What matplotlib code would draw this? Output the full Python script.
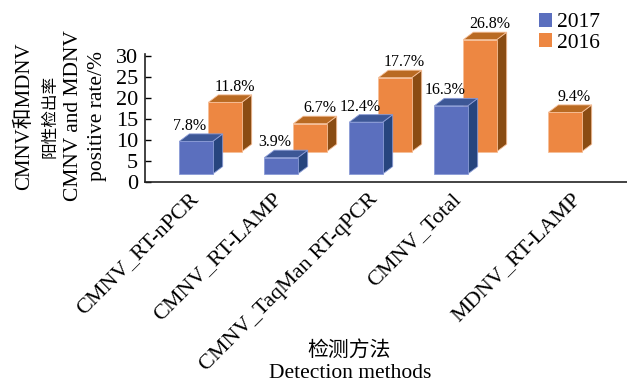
import matplotlib
matplotlib.use("Agg")
import matplotlib.pyplot as plt
from matplotlib.patches import Polygon, Patch
from matplotlib.transforms import blended_transform_factory, offset_copy
import numpy as np

# ---- data -------------------------------------------------------------
categories = ["CMNV_RT-nPCR", "CMNV_RT-LAMP", "CMNV_TaqMan RT-qPCR",
              "CMNV_Total", "MDNV_RT-LAMP"]
series_names = ["2017", "2016"]
rate_2017 = [7.8, 3.9, 12.4, 16.3, np.nan]
rate_2016 = [11.8, 6.7, 17.7, 26.8, 9.4]
y_ticks = [0, 5, 10, 15, 20, 25, 30]

# ---- style ------------------------------------------------------------
plt.rcParams["font.family"] = ["Liberation Serif", "Noto Sans CJK SC"]
plt.rcParams["axes.unicode_minus"] = False

W, H = 627, 382
fig = plt.figure(figsize=(W / 100, H / 100), dpi=100)

# axes box in pixels (left, right, baseline, top)
ax_l, ax_r, ax_b, ax_t = 145, 627, 181.7, 53.5
ax = fig.add_axes([ax_l / W, (H - ax_b) / H, (ax_r - ax_l) / W, (ax_b - ax_t) / H])

px_per_unit = 4.18           # vertical pixels per percentage point
px_per_cat = 85.0            # horizontal pixels per category
ax.set_ylim(0, (ax_b - ax_t) / px_per_unit)
x0_px = 215.5                # pixel position of the first category
ax.set_xlim((ax_l - x0_px) / px_per_cat, (ax_r - x0_px) / px_per_cat)

# pseudo-3D geometry (category / data units)
bar_w = 33.4 / px_per_cat
depth_dx = 10.0 / px_per_cat
depth_dy = 7.5 / px_per_unit
rows = {
    "2017": dict(shift=-36.2 / px_per_cat, base=(ax_b - 174.0) / px_per_unit,
                 front="#5b6fbe", top="#3d5796", side="#27457e", edge="#8a9bd6",
                 lab_dx=-4.5, zorder=4),
    "2016": dict(shift=-7.2 / px_per_cat, base=(ax_b - 151.7) / px_per_unit,
                 front="#ed8742", top="#b96a22", side="#8a4c13", edge="#f6bf98",
                 lab_dx=6.8, zorder=2),
}

x = np.arange(len(categories))


def draw_row(values, st):
    left = x + st["shift"]
    base = st["base"]
    vals = np.asarray(values, dtype=float)
    bars = ax.bar(left, vals, width=bar_w, bottom=base, align="edge",
                  color=st["front"], edgecolor=st["edge"], linewidth=0.6,
                  zorder=st["zorder"] + 0.2)
    for b in bars:
        b.set_clip_on(False)
    for xl, v in zip(left, vals):
        if np.isnan(v):
            continue
        top_y = base + v
        top = Polygon([(xl, top_y), (xl + bar_w, top_y),
                       (xl + bar_w + depth_dx, top_y + depth_dy),
                       (xl + depth_dx, top_y + depth_dy)],
                      closed=True, facecolor=st["top"], edgecolor=st["edge"],
                      linewidth=0.6, zorder=st["zorder"], clip_on=False)
        side = Polygon([(xl + bar_w, base), (xl + bar_w + depth_dx, base + depth_dy),
                        (xl + bar_w + depth_dx, top_y + depth_dy), (xl + bar_w, top_y)],
                       closed=True, facecolor=st["side"], edgecolor=st["edge"],
                       linewidth=0.6, zorder=st["zorder"], clip_on=False)
        ax.add_patch(side)
        ax.add_patch(top)
        ax.annotate(f"{v:.1f}%", xy=(xl + bar_w / 2, top_y + depth_dy),
                    xytext=(st["lab_dx"], 3), textcoords="offset points",
                    ha="center", va="baseline", fontsize=11.5, zorder=6,
                    annotation_clip=False)


# back row first, then the front row over it
draw_row(rate_2016, rows["2016"])
draw_row(rate_2017, rows["2017"])

# ---- axes -------------------------------------------------------------
for s in ("top", "right"):
    ax.spines[s].set_visible(False)
for s in ("left", "bottom"):
    ax.spines[s].set_linewidth(1.2)
    ax.spines[s].set_color("#222222")

ax.set_yticks(y_ticks)
ax.set_yticklabels([str(t) for t in y_ticks], fontsize=16)
ax.tick_params(axis="y", direction="in", length=4, width=1, pad=5)
ax.set_xticks(x)
ax.set_xticklabels([])
ax.tick_params(axis="x", length=0)

# rotated category labels, ends nudged to sit under each group
label_nudge_px = [-27, -29, -17, -19, 16]
trans = blended_transform_factory(ax.transData, ax.transAxes)
for xi, name, nud in zip(x, categories, label_nudge_px):
    tr = offset_copy(trans, fig=fig, x=nud * 0.72, y=-8 * 0.72, units="points")
    ax.text(xi, 0, name, transform=tr, rotation=45, rotation_mode="anchor",
            ha="right", va="top", fontsize=16, clip_on=False)

# ---- axis titles ------------------------------------------------------
ylab_lines = [("CMNV和MDNV", 25, 15, ["Liberation Serif", "Noto Sans CJK SC"]),
              ("阳性检出率", 50, 12, ["Noto Sans CJK SC"]),
              ("CMNV and MDNV", 73, 15.5, ["Liberation Serif"]),
              ("positive rate/%", 97, 15.5, ["Liberation Serif"])]
for txt, xc, fs, fam in ylab_lines:
    fig.text(xc / W, (H - 116) / H, txt, rotation=90, ha="center", va="center",
             fontsize=fs, family=fam)

fig.text(349 / W, (H - 350) / H, "检测方法", ha="center", va="center", fontsize=15,
         family=["Noto Sans CJK SC"])
fig.text(350 / W, (H - 373) / H, "Detection methods", ha="center", va="center",
         fontsize=15.5)

# ---- legend -----------------------------------------------------------
handles = [Patch(facecolor=rows[n]["front"], edgecolor="none") for n in series_names]
fig.legend(handles, series_names, loc="upper left",
           bbox_to_anchor=(539 / W, 1 - 13 / H), frameon=False, fontsize=15.5,
           handlelength=0.6, handleheight=0.6, handletextpad=0.25,
           labelspacing=0.05, borderpad=0, borderaxespad=0)

fig.savefig("out.png", dpi=100)
